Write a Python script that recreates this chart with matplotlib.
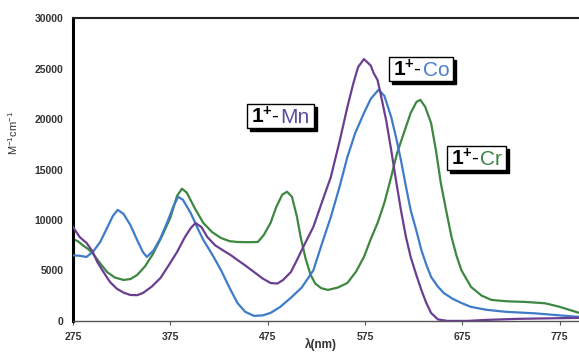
import matplotlib.pyplot as plt
from matplotlib.patches import Rectangle
from matplotlib.transforms import IdentityTransform

plt.rcParams['font.family'] = ['Liberation Sans', 'DejaVu Sans']
plt.rcParams['mathtext.fontset'] = 'custom'
plt.rcParams['mathtext.rm'] = 'Liberation Sans'
plt.rcParams['mathtext.bf'] = 'Liberation Sans:bold'

# absorption spectra, wavelength (nm) vs molar absorptivity (M^-1 cm^-1)
wl_co = [275, 282, 289, 296, 303, 310, 316, 321, 327, 334, 341, 347, 351, 358, 365, 372, 378, 383, 388,
         396, 403, 409, 418, 427, 437, 444, 452, 461, 470, 478, 488, 499, 510, 522, 531, 540, 549, 557,
         565, 574, 581, 589, 595, 602, 607, 612, 617, 622, 628, 633, 638, 643, 650, 656, 665, 674, 684,
         700, 720, 750, 775, 795]
eps_co = [6500, 6450, 6340, 6900, 7820, 9200, 10400, 11000, 10600, 9500, 8000, 6800, 6340, 7000, 8220,
          9800, 11300, 12300, 12000, 10690, 9200, 8020, 6600, 5050, 3070, 1780, 900, 500, 550, 790, 1390,
          2300, 3300, 5000, 7700, 10300, 13300, 16240, 18600, 20590, 22000, 22900, 22300, 20200, 18200,
          15940, 13400, 10990, 8900, 7030, 5600, 4360, 3400, 2770, 2200, 1780, 1390, 1100, 900, 750, 550,
          400]

wl_cr = [275, 280, 285, 291, 296, 303, 310, 318, 327, 334, 341, 349, 357, 366, 375, 382, 387, 392, 400,
         409, 418, 427, 436, 444, 455, 465, 471, 478, 484, 490, 495, 500, 505, 509, 514, 519, 524, 530,
         537, 547, 557, 566, 574, 581, 588, 595, 602, 608, 615, 622, 628, 632, 637, 643, 648, 653, 659,
         664, 669, 674, 684, 695, 705, 720, 740, 760, 775, 785, 795]
eps_cr = [8100, 7900, 7500, 7100, 6600, 5700, 4850, 4300, 4060, 4150, 4550, 5400, 6600, 8300, 10200,
          12400, 13100, 12700, 11200, 9700, 8800, 8220, 7900, 7820, 7800, 7820, 8500, 9700, 11300, 12500,
          12800, 12300, 10400, 8300, 6200, 4600, 3700, 3250, 3070, 3300, 3760, 4900, 6340, 8100, 9700,
          11700, 14260, 16600, 18610, 20600, 21700, 21900, 21200, 19600, 16900, 13660, 10700, 8320, 6500,
          5050, 3370, 2500, 2080, 1950, 1880, 1750, 1400, 1100, 800]

wl_mn = [275, 282, 289, 295, 300, 306, 313, 320, 327, 334, 341, 347, 356, 365, 374, 382, 390, 396, 401,
         407, 413, 421, 429, 437, 444, 452, 461, 470, 478, 485, 491, 499, 505, 512, 522, 531, 540, 549,
         557, 563, 568, 574, 581, 584, 588, 591, 597, 602, 607, 612, 617, 622, 628, 633, 638, 643, 650,
         660, 680, 700, 730, 760, 795]
eps_mn = [9310, 8300, 7720, 6900, 5840, 4900, 3860, 3200, 2800, 2570, 2550, 2770, 3400, 4260, 5600,
          6830, 8300, 9200, 9700, 9300, 8320, 7500, 7000, 6530, 6040, 5500, 4850, 4200, 3760, 3700, 4060,
          4850, 6000, 7400, 9310, 11800, 14260, 17800, 21190, 23500, 25150, 25940, 25300, 24550, 23860,
          22570, 19800, 16930, 13900, 10990, 8400, 6340, 4500, 3070, 1800, 790, 150, 0, 0, 100, 200, 250,
          300]

x_ticks = [275, 375, 475, 575, 675, 775]
y_ticks = [0, 5000, 10000, 15000, 20000, 25000, 30000]

c_mn = '#6a3f92'
c_co = '#3f7cc8'
c_cr = '#3d8741'

fig = plt.figure(figsize=(5.79, 3.55), dpi=100)
ax = fig.add_axes([0.126, 0.096, 0.874, 0.853])

ax.plot(wl_cr, eps_cr, color=c_cr, lw=1.6, zorder=2)
ax.plot(wl_co, eps_co, color=c_co, lw=1.6, zorder=3)
ax.plot(wl_mn, eps_mn, color=c_mn, lw=1.6, zorder=3)

ax.set_xlim(275, 795)
ax.set_ylim(0, 30000)
ax.set_xticks(x_ticks)
ax.set_yticks(y_ticks)
ax.tick_params(axis='x', length=3, width=0.8, color='#555555', pad=5, labelsize=7.5, labelcolor='#333333')
ax.tick_params(axis='y', length=0, pad=7, labelsize=7.5, labelcolor='#333333')
for lab in ax.get_xticklabels() + ax.get_yticklabels():
    lab.set_fontweight('bold')

ax.spines['left'].set_linewidth(2.2)
ax.spines['left'].set_color('black')
ax.spines['bottom'].set_linewidth(1.0)
ax.spines['bottom'].set_color('#555555')
ax.spines['top'].set_linewidth(1.5)
ax.spines['top'].set_color('#222222')
ax.spines['right'].set_visible(False)

ax.set_xlabel(r'λ(nm)', fontsize=8.5, fontweight='bold', color='#333333')
ax.xaxis.set_label_coords(0.49, -0.058)
ax.set_ylabel(r'M$^{-1}$cm$^{-1}$', fontsize=8, color='#333333')
ax.yaxis.set_label_coords(-0.105, 0.62)


def label_box(x, y, name, color):
    # "1+-" in black, metal name in colour, inside a box with a drop shadow
    t1 = ax.text(x, y, r'$\mathbf{1^{+}}$-', fontsize=15, color='black', va='baseline', zorder=6)
    fig.canvas.draw()
    r = fig.canvas.get_renderer()
    b1 = t1.get_window_extent(r)
    t2 = ax.annotate(name, xy=(x, y), xytext=(b1.width + 0.5, 0), textcoords='offset pixels',
                     fontsize=15, color=color, va='baseline', zorder=6)
    b2 = t2.get_window_extent(r)
    x0 = b1.x0 - 4
    x1 = b2.x1 + 4
    y0 = min(b1.y0, b2.y0) - 1
    y1 = max(b1.y1, b2.y1) + 2
    ax.add_artist(Rectangle((x0 + 3, y0 - 3), x1 - x0, y1 - y0, transform=IdentityTransform(),
                            facecolor='black', edgecolor='black', clip_on=False, zorder=4))
    ax.add_artist(Rectangle((x0, y0), x1 - x0, y1 - y0, transform=IdentityTransform(),
                            facecolor='white', edgecolor='black', lw=1.0, clip_on=False, zorder=5))


label_box(458, 19600, 'Mn', '#5a4c9e')
label_box(604, 24250, 'Co', '#4a80c8')
label_box(663, 15400, 'Cr', '#3d8240')

fig.savefig('out.png', dpi=100)
